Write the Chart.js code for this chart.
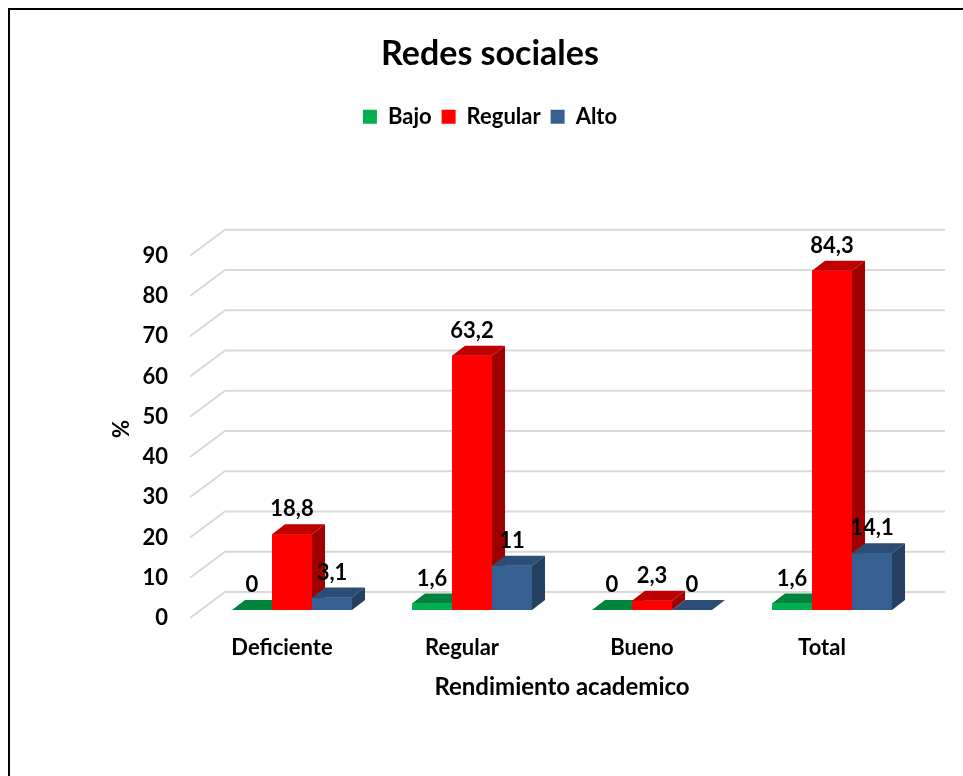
<!DOCTYPE html>
<html>
<head>
<meta charset="utf-8">
<script src="https://cdn.jsdelivr.net/npm/chart.js@4/dist/chart.umd.min.js"></script>
<style>
  html, body { margin: 0; padding: 0; background: #fff; overflow: hidden; }
  #frame { position: absolute; left: 8px; top: 8px; width: 1000px; height: 900px; border: 2px solid #000; box-sizing: border-box; }
  #c { position: absolute; left: 0; top: 0; }
</style>
</head>
<body>
<div id="frame"></div>
<canvas id="c" width="963" height="776"></canvas>
<script>
const categories = ['Deficiente', 'Regular', 'Bueno', 'Total'];
const seriesNames = ['Bajo', 'Regular', 'Alto'];
const bajo = [0, 1.6, 0, 1.6];
const regular = [18.8, 63.2, 2.3, 84.3];
const alto = [3.1, 11, 0, 14.1];
const yTicks = [0, 10, 20, 30, 40, 50, 60, 70, 80, 90];

const FONT = 'Lato, "Open Sans", sans-serif';
const front = ['#00B050', '#FF0000', '#376092'];
const topC = ['#00843C', '#C00000', '#2C4D75'];
const sideC = ['#006E32', '#A00000', '#243F60'];
const DX = 13, DY = -10;

const legendSpace = {
  id: 'legendSpace',
  beforeInit(chart) {
    const fit = chart.legend.fit;
    chart.legend.fit = function () { fit.call(this); this.height += 110; };
  }
};

const grid3d = {
  id: 'grid3d',
  beforeDatasetsDraw(chart) {
    const ctx = chart.ctx, y = chart.scales.y, a = chart.chartArea;
    ctx.save();
    ctx.strokeStyle = '#D9D9D9';
    ctx.lineWidth = 2;
    yTicks.forEach(v => {
      const py = y.getPixelForValue(v);
      ctx.beginPath();
      ctx.moveTo(a.left - 12, py + 8);
      ctx.lineTo(a.left + 23, py - 18);
      ctx.lineTo(a.right + 23, py - 18);
      ctx.stroke();
    });
    ctx.restore();
  }
};

const bars3d = {
  id: 'bars3d',
  afterDatasetsDraw(chart) {
    const ctx = chart.ctx;
    const metas = chart.data.datasets.map((d, i) => chart.getDatasetMeta(i));
    ctx.save();
    categories.forEach((c, ci) => {
      metas.forEach((m, di) => {
        const el = m.data[ci];
        const x0 = el.x - el.width / 2, x1 = el.x + el.width / 2;
        const yt = Math.min(el.y, el.base), yb = el.base;
        ctx.fillStyle = front[di];
        ctx.fillRect(x0, yt, x1 - x0, yb - yt);
        ctx.fillStyle = topC[di];
        ctx.beginPath();
        ctx.moveTo(x0, yt); ctx.lineTo(x1, yt);
        ctx.lineTo(x1 + DX, yt + DY); ctx.lineTo(x0 + DX, yt + DY);
        ctx.closePath(); ctx.fill();
        if (yb - yt > 0.5) {
          ctx.fillStyle = sideC[di];
          ctx.beginPath();
          ctx.moveTo(x1, yt); ctx.lineTo(x1 + DX, yt + DY);
          ctx.lineTo(x1 + DX, yb + DY); ctx.lineTo(x1, yb);
          ctx.closePath(); ctx.fill();
        }
      });
    });
    ctx.fillStyle = '#000';
    ctx.font = 'bold 22px ' + FONT;
    ctx.textAlign = 'center';
    ctx.textBaseline = 'middle';
    metas.forEach((m, di) => {
      m.data.forEach((el, ci) => {
        const v = chart.data.datasets[di].data[ci];
        const yt = Math.min(el.y, el.base);
        ctx.fillText(String(v).replace('.', ','), el.x, yt - 25);
      });
    });
    ctx.restore();
  }
};

new Chart(document.getElementById('c'), {
  type: 'bar',
  data: {
    labels: categories,
    datasets: [
      { label: seriesNames[0], data: bajo, backgroundColor: front[0] },
      { label: seriesNames[1], data: regular, backgroundColor: front[1] },
      { label: seriesNames[2], data: alto, backgroundColor: front[2] }
    ]
  },
  options: {
    responsive: false,
    devicePixelRatio: 1,
    animation: false,
    categoryPercentage: 120 / 180,
    barPercentage: 1,
    layout: { padding: { top: 30, left: 58, right: 41, bottom: 73 } },
    plugins: {
      title: {
        display: true, text: 'Redes sociales', color: '#000',
        font: { family: FONT, size: 34, weight: 'bold' },
        padding: { top: 4, bottom: 21 }
      },
      legend: {
        position: 'top',
        labels: {
          color: '#000', boxWidth: 14, boxHeight: 14, padding: 10,
          font: { family: FONT, size: 22, weight: 'bold' }
        }
      },
      tooltip: { enabled: false }
    },
    scales: {
      x: {
        afterFit(s) { s.height = 93; },
        grid: { display: false, drawTicks: false }, border: { display: false },
        ticks: { color: '#000', padding: 25, labelOffset: -10, font: { family: FONT, size: 22, weight: 'bold' } },
        title: { display: true, text: 'Rendimiento academico', color: '#000', padding: { top: 10, bottom: 1 },
                 font: { family: FONT, size: 24, weight: 'bold' } }
      },
      y: {
        min: 0, max: 90,
        afterFit(s) { s.width = 144; },
        afterBuildTicks(s) { s.ticks = yTicks.map(v => ({ value: v })); },
        grid: { display: false, drawTicks: false }, border: { display: false },
        ticks: { color: '#000', padding: 34, labelOffset: 8, font: { family: FONT, size: 22, weight: 'bold' } },
        title: { display: true, text: '%', color: '#000', padding: { top: 51, bottom: 0 },
                 font: { family: FONT, size: 22, weight: 'bold' } }
      }
    }
  },
  plugins: [legendSpace, grid3d, bars3d]
});
</script>
</body>
</html>
